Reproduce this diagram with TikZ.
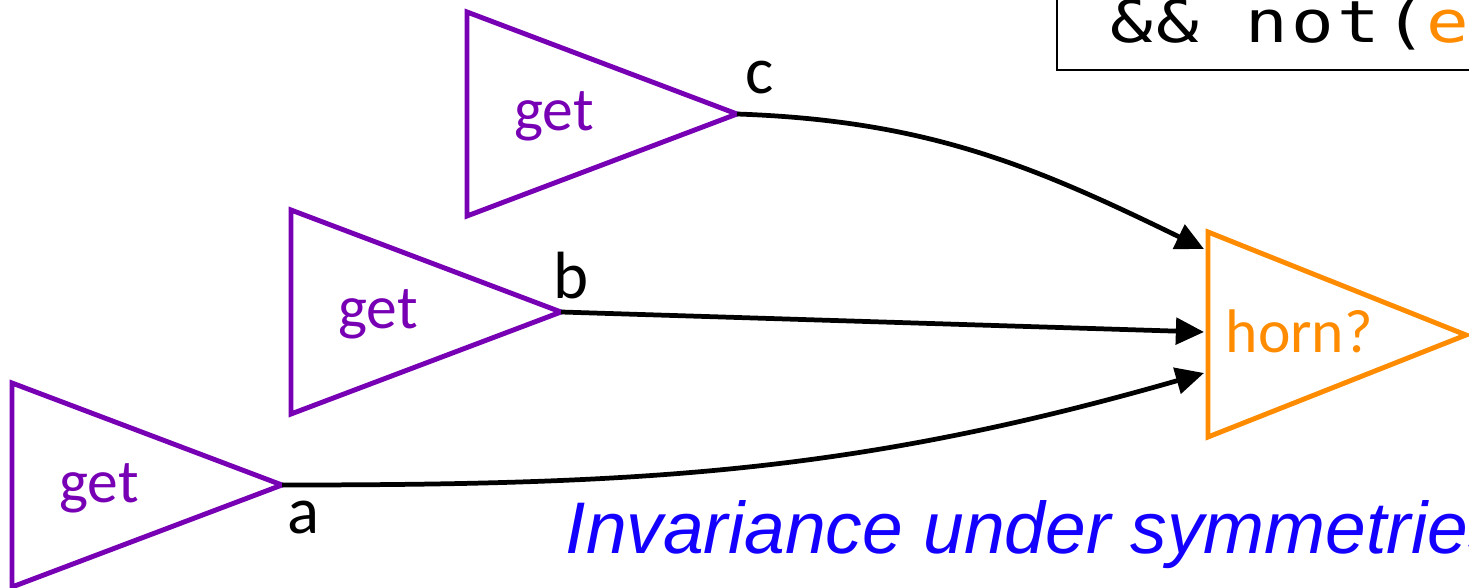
\documentclass[tikz,border=0pt]{standalone}
\usepackage{graphicx}
\usepackage{fontspec}
\usepackage{tikz}
\usetikzlibrary{arrows.meta}
\usepackage{xcolor}

\newfontfamily\labelfont{Carlito}
\newfontfamily\codefont[LetterSpace=5]{DejaVu Sans Mono}
\newfontfamily\capfont{Liberation Sans}

\definecolor{getpurple}{RGB}{120,0,180}
\definecolor{hornorange}{RGB}{255,140,0}
\definecolor{capblue}{RGB}{20,0,255}

\begin{document}
\begin{tikzpicture}[x=0.01cm,y=-0.01cm,
    block/.style={line width=1.4pt, line join=miter},
    wire/.style={line width=1.35pt, -{Triangle[length=8pt,width=7.5pt]}},
    varname/.style={inner sep=0pt, font=\labelfont\fontsize{19}{19}\selectfont}]
						\useasboundingbox (0,0) rectangle (1469,588);
						\clip (0,0) rectangle (1469,588);
						
						% Get blocks
						\foreach \nm/\x/\y in {a/12/383, b/291/210, c/467/12}
						{
						\draw[block, getpurple] (\x,\y) -- (\x+270,\y+102) -- (\x,\y+204) -- cycle;
						\coordinate (\nm-out) at (\x+270,\y+102);
						\node[anchor=base, inner sep=0pt, text=getpurple, font=\labelfont\fontsize{17.5}{17.5}\selectfont] (get-\nm) at (\x+87,\y+119) {get};
						}
						
						% Horn block
						\draw[block, hornorange] (1208,232) -- (1466,335) -- (1208,437) -- cycle;
						\node[anchor=base west, inner sep=0pt, text=hornorange, font=\labelfont\fontsize{17.5}{17.5}\selectfont] (horn) at (1225,353) {horn?};
						\coordinate (horn-in1) at (1204,249);
						\coordinate (horn-in2) at (1204,332);
						\coordinate (horn-in3) at (1204,373);
						
						% Variable names
						\node[varname, anchor=base west] (lbl-a) at (287,533) {a};
						\node[varname, anchor=base west] (lbl-b) at (553,298) {b};
						\node[varname, anchor=base west] (lbl-c) at (745,94) {c};
						
						% Wires
						\draw[wire] (c-out) to[out=-2,in=154] (horn-in1);
						\draw[wire] (b-out) -- (horn-in2);
						\draw[wire] (a-out) to[out=0,in=196] (horn-in3);
						
						% Code box
						\draw[line width=0.7pt] (1057,-20) -- (1057,70) -- (1500,70);
						\node[anchor=base west, inner sep=0pt] (code) at (1110,43)
						{\scalebox{1.22}[1]{\codefont\fontsize{16.5}{16.5}\selectfont \&\& not(\textcolor{hornorange}{e}xpr)}};
						
						% Caption
						\node[anchor=base west, inner sep=0pt, text=capblue, font=\capfont\itshape\fontsize{20.8}{20.8}\selectfont] (caption) at (565,553) {Invariance under symmetries};
					\end{tikzpicture}
\end{document}
